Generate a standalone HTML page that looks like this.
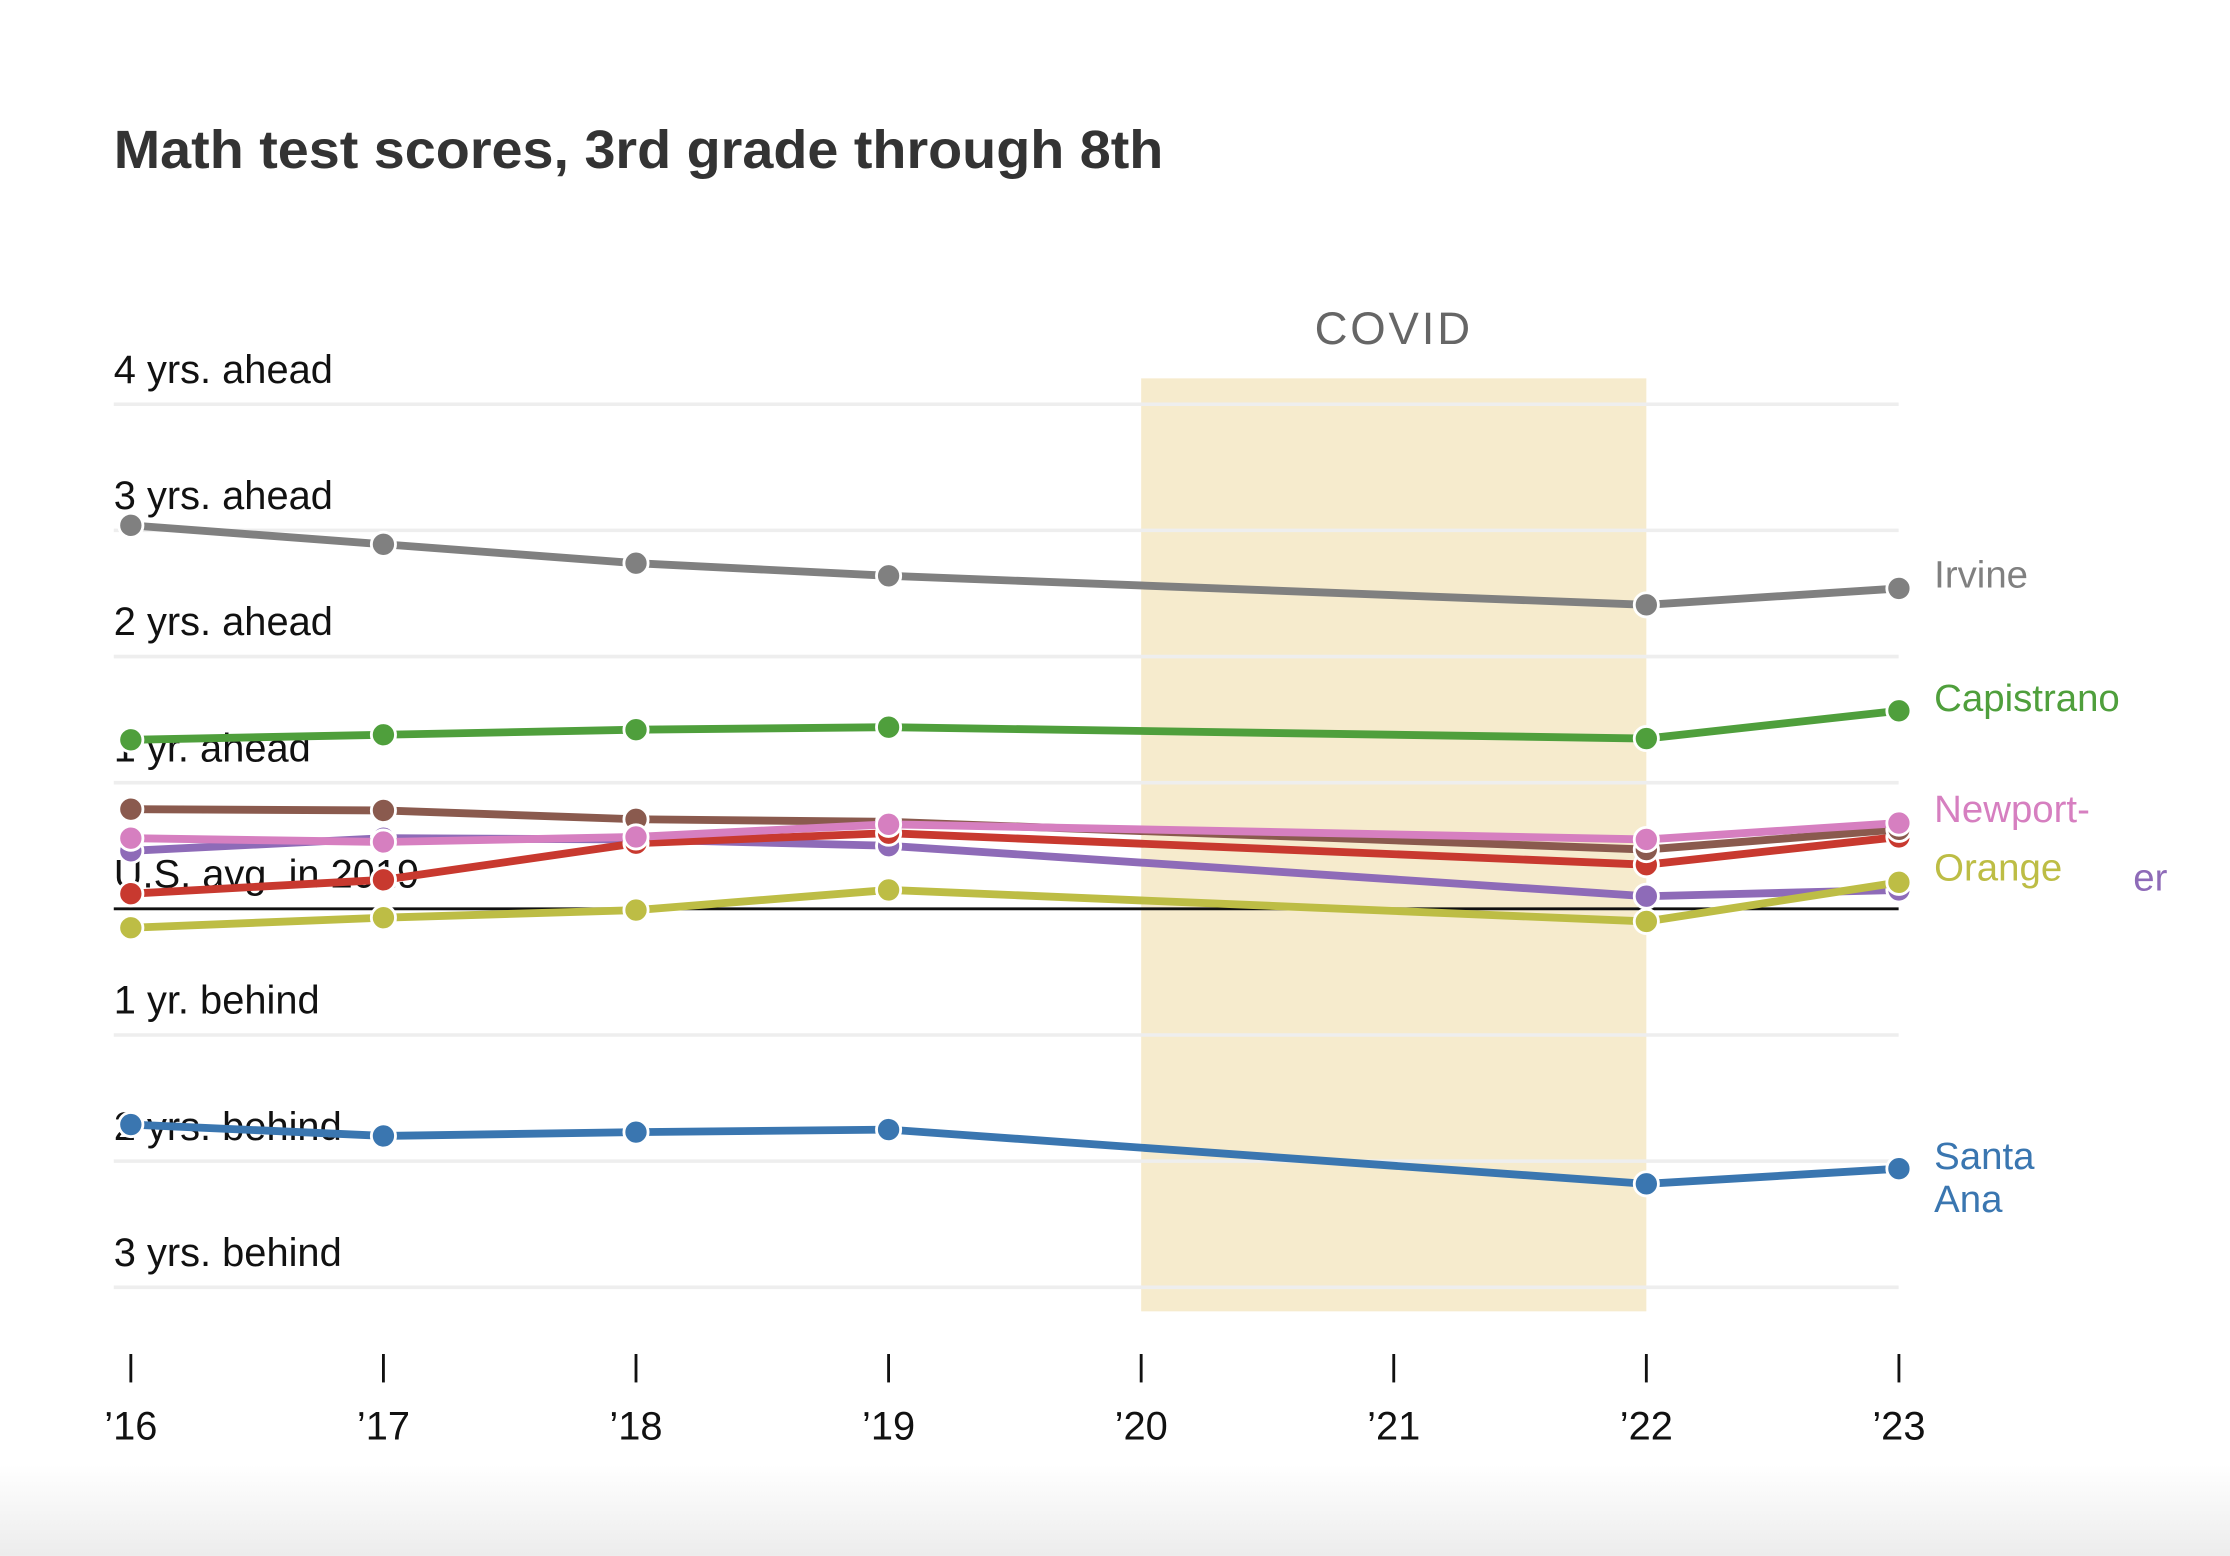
<!DOCTYPE html>
<html><head><meta charset="utf-8"><style>
html,body{margin:0;padding:0;background:#fff;}
svg{display:block;font-family:"Liberation Sans",sans-serif;}
</style></head><body>
<svg id="chart" width="2230" height="1556" viewBox="0 0 1568 1094" xmlns="http://www.w3.org/2000/svg">
<defs><linearGradient id="fade" x1="0" y1="0" x2="0" y2="1"><stop offset="0" stop-color="#fff"/><stop offset="1" stop-color="#ececec"/></linearGradient></defs>
<rect x="0" y="1030" width="1568" height="64" fill="url(#fade)"/>
<text x="80" y="118" font-size="38" font-weight="bold" fill="#333" textLength="738" lengthAdjust="spacingAndGlyphs">Math test scores, 3rd grade through 8th</text>
<g id="bg"></g><g id="series"></g><g id="labels"></g>
</svg>
<script>
const years = ["'16","'17","'18","'19","'20","'21","'22","'23"];
const yTickValues = [4,3,2,1,0,-1,-2,-3];
const yTickLabels = ["4 yrs. ahead","3 yrs. ahead","2 yrs. ahead","1 yr. ahead","U.S. avg. in 2019","1 yr. behind","2 yrs. behind","3 yrs. behind"];
const seriesNames = ["Santa Ana","Orange","Tustin","Red","Brown","Newport-Mesa","Capistrano","Irvine"];
const seriesColors = ["#3a76b0","#bdbd45","#8e6bb8","#c8392f","#8a5a4e","#d67fc0","#4f9f3c","#808080"];
const dataYears = [0,1,2,3,6,7];
const santaAna = [-1.71,-1.80,-1.77,-1.75,-2.18,-2.06];
const orange = [-0.15,-0.07,-0.01,0.15,-0.10,0.21];
const tustin = [0.46,0.56,0.55,0.50,0.10,0.15];
const red = [0.12,0.23,0.52,0.60,0.35,0.57];
const brown = [0.79,0.78,0.71,0.69,0.47,0.63];
const newport = [0.56,0.53,0.57,0.67,0.55,0.68];
const capistrano = [1.34,1.38,1.42,1.44,1.35,1.57];
const irvine = [3.04,2.89,2.74,2.64,2.41,2.54];
const seriesValues = [santaAna,tustin,orange,red,brown,newport,capistrano,irvine];
const seriesColorOrder = ["#3a76b0","#8e6bb8","#bdbd45","#c8392f","#8a5a4e","#d67fc0","#4f9f3c","#808080"];
const covidStart = 4, covidEnd = 6;

const NS="http://www.w3.org/2000/svg";
const xS = i => 92 + i*177.6;
const yS = v => 639 - v*88.7;
function mk(tag, attrs, parent, text){const e=document.createElementNS(NS,tag);for(const k in attrs)e.setAttribute(k,attrs[k]);if(text!==undefined)e.textContent=text;parent.appendChild(e);return e;}
const bg=document.getElementById('bg'), sg=document.getElementById('series'), lg=document.getElementById('labels');

const cov=mk('rect',{x:xS(covidStart),y:266,width:xS(covidEnd)-xS(covidStart),height:656,fill:'#f6ebcd'},bg);


const ct=mk('text',{x:(xS(covidStart)+xS(covidEnd))/2,y:242,'font-size':32,fill:'#666','text-anchor':'middle','letter-spacing':'2'},bg,'COVID');



yTickValues.forEach((v,i)=>{
  const ln=mk('line',{x1:80,x2:1335,y1:yS(v),y2:yS(v),stroke:v===0?'#111':'#eeeeee','stroke-width':v===0?2:2.5},bg);
  
  
  const t=mk('text',{x:80,y:yS(v)-15,'font-size':28,fill:'#111'},bg,yTickLabels[i]);
  
  
});
years.forEach((y,i)=>{
  const tk=mk('line',{x1:xS(i),x2:xS(i),y1:952,y2:972,stroke:'#111','stroke-width':2},bg);
  
  
  const t=mk('text',{x:xS(i),y:1012,'font-size':28,fill:'#111','text-anchor':'middle'},bg,y.replace("'","\u2019"));
  
  
});

seriesValues.forEach((vals,s)=>{
  const g=mk('g',{},sg);
  
  
  const pts=vals.map((v,i)=>xS(dataYears[i])+','+yS(v)).join(' ');
  mk('polyline',{points:pts,fill:'none',stroke:seriesColorOrder[s],'stroke-width':5.5,'stroke-linejoin':'round'},g);
  vals.forEach((v,i)=>{
    const c=mk('circle',{cx:xS(dataYears[i]),cy:yS(v),r:8.5,fill:seriesColorOrder[s],stroke:'#fff','stroke-width':2},g);
    
    
  });
});

const labs=[["Irvine",7,413],["Capistrano",6,500],["Newport-",5,578],["Orange",1,619],["Santa",0,822],["Ana",0,852]];
labs.forEach(l=>{
  const t=mk('text',{x:1360,y:l[2],'font-size':27,fill:seriesColors[l[1]]},lg,l[0]);
  
  
});
const er=mk('text',{x:1500,y:626,'font-size':27,fill:seriesColors[2]},lg,'er');


</script>
</body></html>
